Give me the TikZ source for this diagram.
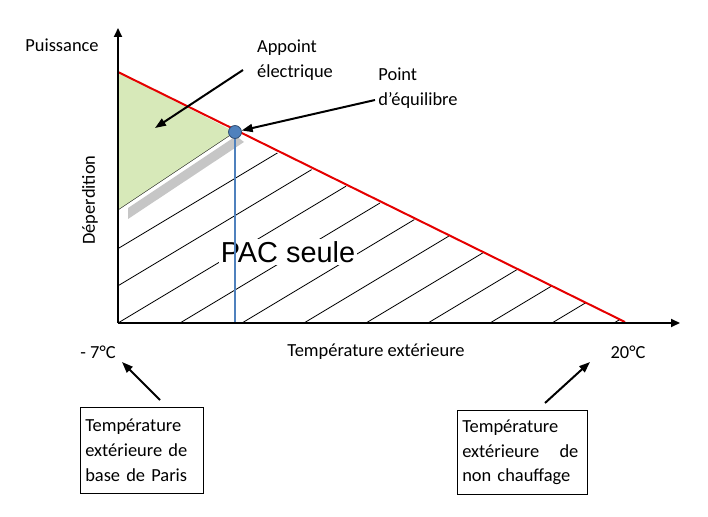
\documentclass[tikz,border=0pt]{standalone}
\usepackage{fontspec}
\setmainfont{Carlito}
\newfontfamily\arialfont{Liberation Sans}
\usetikzlibrary{arrows.meta}
\definecolor{appointgreen}{RGB}{215,233,185}
\definecolor{eqblue}{RGB}{79,129,189}
\begin{document}
\begin{tikzpicture}[x=1bp,y=-1bp,
  lbl/.style={font=\fontsize{18.5}{25}\selectfont,align=left},
  axis/.style={line width=2pt,-{Triangle[length=9pt,width=8pt]}},
  callout/.style={line width=2pt,-{Triangle[length=11pt,width=8pt]}},
  infobox/.style={draw,line width=0.6pt,lbl,inner sep=5pt,align=left}]
  \useasboundingbox (0,0) rectangle (708,517);
  % zones
  \coordinate (o) at (118,323);
  \coordinate (top) at (118,72);
  \coordinate (eq) at (235,132);
  \coordinate (end) at (625,322);
  \fill[gray!45] (128,208) -- (236,136) -- (244,142) -- (128,219) -- cycle;
  \fill[appointgreen] (top) -- (eq) -- (118,210) -- cycle;
  \draw[thin] (eq) -- (118,210);
  \begin{scope}
    \clip (o) -- (end) -- (265,147) -- (244,142) -- (128,219) -- (118,226) -- cycle;
    \foreach \k in {-6,...,8}
      \draw[line width=0.8pt] (118+\k*62,323) -- ++(600,-360);
  \end{scope}
  \node[font=\arialfont\fontsize{29}{32}\selectfont,fill=white,inner sep=2pt] (pac) at (288,252) {PAC seule};
  \draw[red!90!black,line width=2pt] (top) -- (end);
  \draw[eqblue,line width=2.2pt] (eq) -- (235,323);
  \node[circle,fill=eqblue,draw=eqblue!60!black,line width=0.8pt,inner sep=0pt,minimum size=13pt] (pt) at (eq) {};
  % axes
  \draw[axis] (o) -- (118,28);
  \draw[axis] (o) -- (680,323);
  % labels
  \node[lbl] (puis) at (62,45) {Puissance};
  \node[lbl,rotate=90] (dep) at (90,200) {Déperdition};
  \node[lbl] (app) at (295,60) {Appoint\\électrique};
  \node[lbl] (equi) at (418,88) {Point\\d’équilibre};
  \node[lbl] (text) at (376,352) {Température extérieure};
  \node[lbl] (tmin) at (98,352) {- 7°C};
  \node[lbl] (tmax) at (628,352) {20°C};
  \node[infobox,anchor=north west,text width=113bp,minimum height=86bp] (base) at (80,407) {Température\\extérieure de\\base de Paris};
  \node[infobox,anchor=north west,text width=120bp,minimum height=84bp] (nonch) at (457,410) {Température\\extérieure\hspace{1.1em}de\\non chauffage};
  % callouts
  \coordinate (greenin) at (155,128);
  \draw[callout] (243,70) -- (greenin);
  \draw[callout] (375,100) -- (pt);
  \draw[callout] (160,400) -- (122,362);
  \draw[callout] (545,403) -- (590,362);
\end{tikzpicture}
\end{document}
